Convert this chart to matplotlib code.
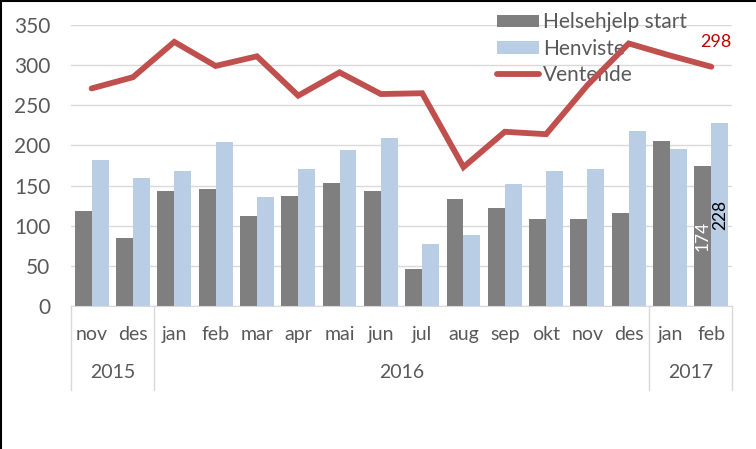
import matplotlib
matplotlib.use("Agg")
import matplotlib.pyplot as plt
import matplotlib.transforms as mtransforms
from matplotlib.lines import Line2D
import numpy as np

months = ["nov", "des", "jan", "feb", "mar", "apr", "mai", "jun", "jul",
          "aug", "sep", "okt", "nov", "des", "jan", "feb"]
years = ["2015", "2016", "2017"]
year_counts = [2, 12, 2]
helsehjelp = [118, 85, 143, 146, 112, 137, 153, 143, 46, 133, 122, 108, 108, 116, 205, 174]
henviste = [182, 159, 168, 204, 136, 171, 194, 209, 77, 88, 152, 168, 171, 218, 195, 228]
ventende = [271, 285, 329, 299, 311, 262, 291, 264, 265, 173, 217, 214, 275, 327, 312, 298]
yticks = [0, 50, 100, 150, 200, 250, 300, 350]

plt.rcParams['font.family'] = ['Lato', 'DejaVu Sans']
txt = "#595959"
gray = "#7F7F7F"
blue = "#B9CDE5"
red = "#C0504D"

fig = plt.figure(figsize=(7.56, 4.49), dpi=100)
ax = fig.add_axes([71/756, 1-306/449, (732-71)/756, (306-25)/449])

x = np.arange(len(months))
w = 0.41
b1 = ax.bar(x - w/2, helsehjelp, width=w, color=gray, label="Helsehjelp start", zorder=2)
b2 = ax.bar(x + w/2, henviste, width=w, color=blue, label="Henviste", zorder=2)
l1, = ax.plot(x, ventende, color=red, lw=4.2, solid_capstyle='round', solid_joinstyle='miter',
              label="Ventende", zorder=4)

ax.set_xlim(-0.5, len(months) - 0.5)
ax.set_ylim(0, 350)
ax.set_yticks(yticks)
ax.set_yticklabels([str(v) for v in yticks], fontsize=15, color=txt)
ax.tick_params(axis='y', length=0, pad=15)
ax.set_xticks([])
ax.yaxis.grid(True, color="#D9D9D9", lw=1, zorder=0)
for s in ["top", "right", "left"]:
    ax.spines[s].set_visible(False)
ax.spines["bottom"].set_color("#D9D9D9")

trans = mtransforms.blended_transform_factory(ax.transData, ax.transAxes)
for i, m in enumerate(months):
    ax.text(i, -0.103, m, transform=trans, ha='center', va='center', fontsize=14,
            color=txt, clip_on=False)
start = 0
bounds = [-0.5]
for yname, cnt in zip(years, year_counts):
    center = start + (cnt - 1) / 2
    ax.text(center, -0.238, yname, transform=trans, ha='center', va='center',
            fontsize=14, color=txt, clip_on=False)
    start += cnt
    bounds.append(start - 0.5)
for b in bounds:
    ax.add_line(Line2D([b, b], [0, -0.299], transform=trans, color="#D9D9D9",
                       lw=1, clip_on=False))

# data labels
ax.text(x[-1] + 0.1, ventende[-1] + 31, str(ventende[-1]), ha='center', va='center',
        fontsize=13, color="#C00000", zorder=5)
ax.text(x[-1] - w/2, 87, str(helsehjelp[-1]), rotation=90, ha='center', va='center',
        fontsize=12.5, color="white", zorder=5)
ax.text(x[-1] + w/2, 113, str(henviste[-1]), rotation=90, ha='center', va='center',
        fontsize=12.5, color="black", zorder=5)

leg = ax.legend(handles=[b1, b2, l1], loc='upper left', bbox_to_anchor=(487/756, 1 - 2/449),
                bbox_transform=fig.transFigure, frameon=False, fontsize=15,
                handlelength=2.0, handleheight=0.55, handletextpad=0.2,
                labelspacing=0.3, borderpad=0, labelcolor=txt)
leg.set_zorder(3)

# black border on left and top
fig.add_artist(Line2D([0.5/756, 0.5/756], [0, 1], transform=fig.transFigure, color='black', lw=1.5))
fig.add_artist(Line2D([0, 1], [1 - 0.5/449, 1 - 0.5/449], transform=fig.transFigure, color='black', lw=1.5))

fig.savefig("out.png", dpi=100)
